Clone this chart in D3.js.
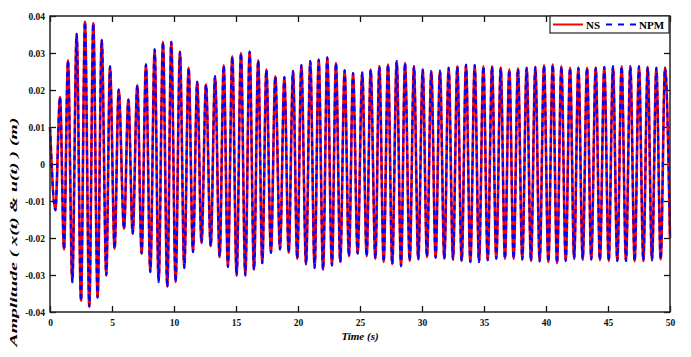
<!DOCTYPE html>
<html lang="en">
<head>
    <meta charset="UTF-8">
    <title>NS vs NPM amplitude</title>
    <script src="https://d3js.org/d3.v7.min.js"></script>
    <style>
        body { margin: 0; background: #fff; }
        text { font-family: "Liberation Serif", "Times New Roman", serif; font-weight: bold; }
    </style>
</head>
<body>
    <div id="chart-container">
        <svg width="691" height="357"></svg>
    </div>
    <script>
        // extrema (time in s, amplitude in m)
        const timeS = [0, 0.43, 0.81, 1.13, 1.45, 1.80, 2.15, 2.50, 2.82, 3.17, 3.49, 3.84, 4.17, 4.54, 4.84, 5.21,
            5.54, 5.97, 6.32, 6.67, 7.04, 7.39, 7.74, 8.09, 8.44, 8.76, 9.11, 9.46, 9.78, 10.13, 10.48, 10.83,
            11.18, 11.53, 11.87, 12.22, 12.58, 12.96, 13.31, 13.68, 14.01, 14.35, 14.70, 15.05, 15.40, 15.75,
            16.10, 16.45, 16.79, 17.12, 17.45, 17.82, 18.17, 18.55, 18.90, 19.25, 19.60, 19.94, 20.27, 20.65,
            20.99, 21.34, 21.67, 22.02, 22.36, 22.74, 23.06, 23.41, 23.76, 24.11, 24.44, 24.81, 25.18, 25.54,
            25.86, 26.24, 26.56, 26.91, 27.26, 27.60, 27.96, 28.31, 28.63, 29.01, 29.35, 29.70, 30.06, 30.40,
            30.75, 31.10, 31.45, 31.80, 32.15, 32.50, 32.85, 33.20, 33.55, 33.90, 34.25, 34.60, 34.95, 35.30,
            35.65, 35.99, 36.35, 36.69, 37.04, 37.39, 37.74, 38.09, 38.44, 38.79, 39.14, 39.49, 39.84, 40.19,
            40.54, 40.89, 41.24, 41.59, 41.94, 42.27, 42.61, 42.96, 43.31, 43.65, 44.01, 44.35, 44.70, 45.06,
            45.40, 45.75, 46.10, 46.45, 46.80, 47.15, 47.50, 47.85, 48.20, 48.55, 48.90, 49.25, 49.60, 50.00];

        const nsAmp = [0.010, -0.0125, 0.0181, -0.0231, 0.0280, -0.0319, 0.0352, -0.0370, 0.0384, -0.0385, 0.0380,
            -0.0361, 0.0336, -0.0301, 0.0264, -0.0229, 0.0201, -0.0175, 0.0174, -0.0188, 0.0213, -0.0242, 0.0269,
            -0.0292, 0.0310, -0.0319, 0.0330, -0.0332, 0.0330, -0.0319, 0.0303, -0.0281, 0.0260, -0.0238, 0.0222,
            -0.0213, 0.0215, -0.0222, 0.0237, -0.0251, 0.0267, -0.0278, 0.0291, -0.0301, 0.0300, -0.0301, 0.0304,
            -0.0286, 0.0280, -0.0268, 0.0255, -0.0240, 0.0237, -0.0231, 0.0235, -0.0240, 0.0251, -0.0256, 0.0267,
            -0.0271, 0.0278, -0.0281, 0.0282, -0.0286, 0.0288, -0.0274, 0.0273, -0.0265, 0.0253, -0.0249, 0.0246,
            -0.0242, 0.0247, -0.0249, 0.0255, -0.0256, 0.0264, -0.0265, 0.0269, -0.0271, 0.0278, -0.0276, 0.0273,
            -0.0262, 0.0264, -0.0258, 0.0255, -0.0251, 0.0251, -0.0253, 0.0252, -0.0256, 0.0260, -0.0258, 0.0264,
            -0.0262, 0.0268, -0.0265, 0.0267, -0.0265, 0.0264, -0.0260, 0.0264, -0.0256, 0.0260, -0.0256, 0.0255,
            -0.0256, 0.0258, -0.0258, 0.0260, -0.0262, 0.0262, -0.0263, 0.0267, -0.0265, 0.0269, -0.0268, 0.0264,
            -0.0262, 0.0260, -0.0256, 0.0260, -0.0258, 0.0260, -0.0258, 0.0260, -0.0260, 0.0262, -0.0262, 0.0264,
            -0.0262, 0.0264, -0.0262, 0.0264, -0.0263, 0.0264, -0.0262, 0.0262, -0.0260, 0.0260, -0.0258, 0.0260,
            -0.0200];

        // NPM lies on top of NS at this resolution
        const npmAmp = [0.010, -0.0125, 0.0181, -0.0231, 0.0280, -0.0319, 0.0352, -0.0370, 0.0384, -0.0385, 0.0380,
            -0.0361, 0.0336, -0.0301, 0.0264, -0.0229, 0.0201, -0.0175, 0.0174, -0.0188, 0.0213, -0.0242, 0.0269,
            -0.0292, 0.0310, -0.0319, 0.0330, -0.0332, 0.0330, -0.0319, 0.0303, -0.0281, 0.0260, -0.0238, 0.0222,
            -0.0213, 0.0215, -0.0222, 0.0237, -0.0251, 0.0267, -0.0278, 0.0291, -0.0301, 0.0300, -0.0301, 0.0304,
            -0.0286, 0.0280, -0.0268, 0.0255, -0.0240, 0.0237, -0.0231, 0.0235, -0.0240, 0.0251, -0.0256, 0.0267,
            -0.0271, 0.0278, -0.0281, 0.0282, -0.0286, 0.0288, -0.0274, 0.0273, -0.0265, 0.0253, -0.0249, 0.0246,
            -0.0242, 0.0247, -0.0249, 0.0255, -0.0256, 0.0264, -0.0265, 0.0269, -0.0271, 0.0278, -0.0276, 0.0273,
            -0.0262, 0.0264, -0.0258, 0.0255, -0.0251, 0.0251, -0.0253, 0.0252, -0.0256, 0.0260, -0.0258, 0.0264,
            -0.0262, 0.0268, -0.0265, 0.0267, -0.0265, 0.0264, -0.0260, 0.0264, -0.0256, 0.0260, -0.0256, 0.0255,
            -0.0256, 0.0258, -0.0258, 0.0260, -0.0262, 0.0262, -0.0263, 0.0267, -0.0265, 0.0269, -0.0268, 0.0264,
            -0.0262, 0.0260, -0.0256, 0.0260, -0.0258, 0.0260, -0.0258, 0.0260, -0.0260, 0.0262, -0.0262, 0.0264,
            -0.0262, 0.0264, -0.0262, 0.0264, -0.0263, 0.0264, -0.0262, 0.0262, -0.0260, 0.0260, -0.0258, 0.0260,
            -0.0200];

        const xTicks = [0, 5, 10, 15, 20, 25, 30, 35, 40, 45, 50];
        const yTicks = [-0.04, -0.03, -0.02, -0.01, 0, 0.01, 0.02, 0.03, 0.04];

        const margin = { top: 16, right: 21, bottom: 45, left: 50 },
              width = 691 - margin.left - margin.right,
              height = 357 - margin.top - margin.bottom;

        const svg = d3.select('#chart-container svg')
            .append('g')
            .attr('transform', `translate(${margin.left},${margin.top})`);

        const x = d3.scaleLinear().domain([0, 50]).range([0, width]);
        const y = d3.scaleLinear().domain([-0.04, 0.04]).range([height, 0]);

        const yFmt = d => d === 0 ? '0' : d.toFixed(2);

        // axes, ticks pointing inward on all four sides
        const styleAxis = g => {
            g.select('.domain').remove();
            g.selectAll('line').attr('stroke', '#111').attr('stroke-width', 1.3);
            g.selectAll('text').style('font-size', '9.5px').attr('fill', '#111');
        };
        svg.append('g')
            .attr('transform', `translate(0,${height})`)
            .call(d3.axisBottom(x).tickValues(xTicks).tickSize(-6).tickPadding(7))
            .call(styleAxis);
        svg.append('g')
            .call(d3.axisTop(x).tickValues(xTicks).tickSize(-6).tickFormat(''))
            .call(styleAxis);
        svg.append('g')
            .call(d3.axisLeft(y).tickValues(yTicks).tickSize(-6).tickPadding(5).tickFormat(yFmt))
            .call(styleAxis);
        svg.append('g')
            .attr('transform', `translate(${width},0)`)
            .call(d3.axisRight(y).tickValues(yTicks).tickSize(-6).tickFormat(''))
            .call(styleAxis);

        const line = d3.line()
            .x(d => x(d[0]))
            .y(d => y(d[1]))
            .curve(d3.curveMonotoneX);

        svg.append('path')
            .datum(timeS.map((t, i) => [t, nsAmp[i]]))
            .attr('fill', 'none')
            .attr('stroke', '#ff0000')
            .attr('stroke-width', 2.6)
            .attr('d', line);

        svg.append('path')
            .datum(timeS.map((t, i) => [t, npmAmp[i]]))
            .attr('fill', 'none')
            .attr('stroke', '#0000ff')
            .attr('stroke-width', 2.2)
            .attr('stroke-dasharray', '5,4')
            .attr('d', line);

        // frame
        svg.append('rect')
            .attr('width', width)
            .attr('height', height)
            .attr('fill', 'none')
            .attr('stroke', '#222')
            .attr('stroke-width', 1.5);

        // legend
        const legend = svg.append('g').attr('transform', `translate(${width - 120}, 0)`);
        legend.append('rect')
            .attr('width', 119).attr('height', 17)
            .attr('fill', '#fff').attr('stroke', '#222').attr('stroke-width', 1.2);
        legend.append('line')
            .attr('x1', 3).attr('x2', 33).attr('y1', 8.5).attr('y2', 8.5)
            .attr('stroke', '#ff0000').attr('stroke-width', 2);
        legend.append('text')
            .attr('x', 36).attr('y', 12.5)
            .style('font-size', '11px')
            .text('NS');
        legend.append('line')
            .attr('x1', 56).attr('x2', 87).attr('y1', 8.5).attr('y2', 8.5)
            .attr('stroke', '#0000ff').attr('stroke-width', 2)
            .attr('stroke-dasharray', '6,6');
        legend.append('text')
            .attr('x', 89).attr('y', 12.5)
            .style('font-size', '11px')
            .text('NPM');

        // axis titles
        svg.append('text')
            .attr('x', width / 2)
            .attr('y', height + 28)
            .attr('text-anchor', 'middle')
            .style('font-size', '11px')
            .style('font-style', 'italic')
            .text('Time (s)');

        svg.append('text')
            .attr('transform', `translate(${17 - margin.left},${232 - margin.top}) rotate(-90)`)
            .attr('text-anchor', 'middle')
            .attr('textLength', 229)
            .attr('lengthAdjust', 'spacingAndGlyphs')
            .style('font-size', '11px')
            .style('font-style', 'italic')
            .text('Amplitude ( x(t) & u(t) )  (m)');
    </script>
</body>
</html>
